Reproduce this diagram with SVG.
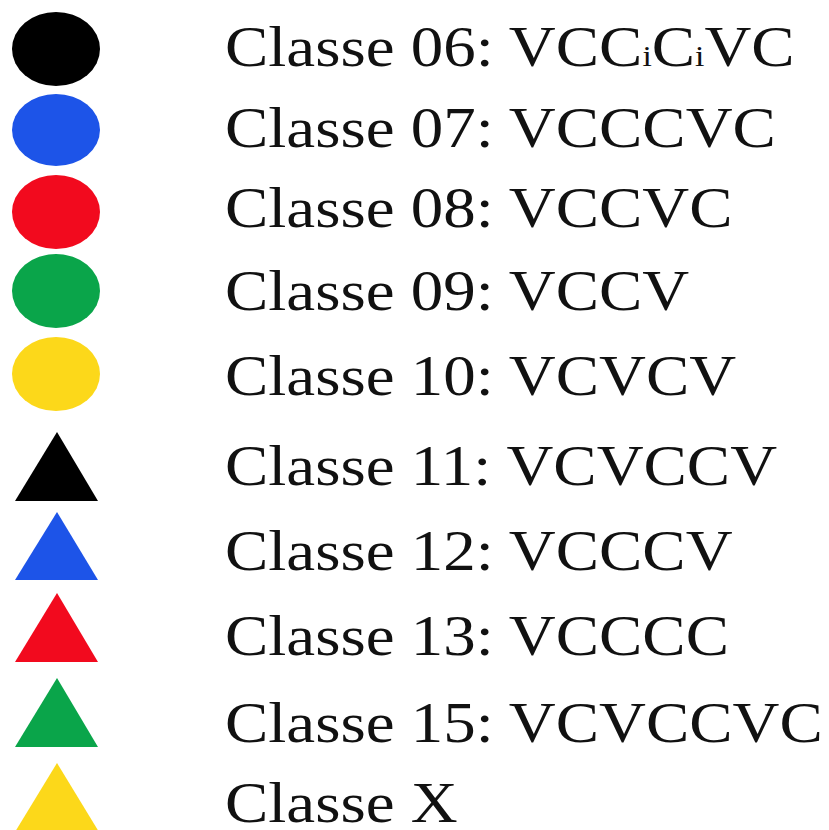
<svg xmlns="http://www.w3.org/2000/svg" width="829" height="830" viewBox="0 0 829 830">
<style>
text{font-family:"Liberation Serif","Times New Roman",serif;font-size:58px;fill:#111}
.sub{font-size:30px}
</style>
<rect width="829" height="830" fill="#fff"/>
<g id="c06"><ellipse cx="56" cy="49" rx="44" ry="37" fill="#000"/><text transform="translate(225,66) scale(1.12,1)">Classe 06: VCC<tspan class="sub">i</tspan>C<tspan class="sub">i</tspan>VC</text></g>
<g id="c07"><ellipse cx="56" cy="130" rx="44" ry="36" fill="#1d54e8"/><text transform="translate(225,147) scale(1.12,1)">Classe 07: VCCCVC</text></g>
<g id="c08"><ellipse cx="56" cy="212" rx="44" ry="37" fill="#f20a1e"/><text transform="translate(225,227) scale(1.12,1)">Classe 08: VCCVC</text></g>
<g id="c09"><ellipse cx="56" cy="291" rx="44" ry="37" fill="#0aa54a"/><text transform="translate(225,310) scale(1.12,1)">Classe 09: VCCV</text></g>
<g id="c10"><ellipse cx="56" cy="374" rx="44" ry="37" fill="#fcd81a"/><text transform="translate(225,395) scale(1.12,1)">Classe 10: VCVCV</text></g>
<g id="c11"><polygon points="57,432 98,501 15,501" fill="#000"/><text transform="translate(225,485) scale(1.12,1)">Classe 11: VCVCCV</text></g>
<g id="c12"><polygon points="57,512 98,580 15,580" fill="#1d54e8"/><text transform="translate(225,570) scale(1.12,1)">Classe 12: VCCCV</text></g>
<g id="c13"><polygon points="57,593 98,662 15,662" fill="#f20a1e"/><text transform="translate(225,655) scale(1.12,1)">Classe 13: VCCCC</text></g>
<g id="c15"><polygon points="57,678 98,747 15,747" fill="#0aa54a"/><text transform="translate(225,742) scale(1.12,1)">Classe 15: VCVCCVC</text></g>
<g id="cX"><polygon points="57,763 99,832 15,832" fill="#fcd81a"/><text transform="translate(225,822) scale(1.12,1)">Classe X</text></g>
</svg>
